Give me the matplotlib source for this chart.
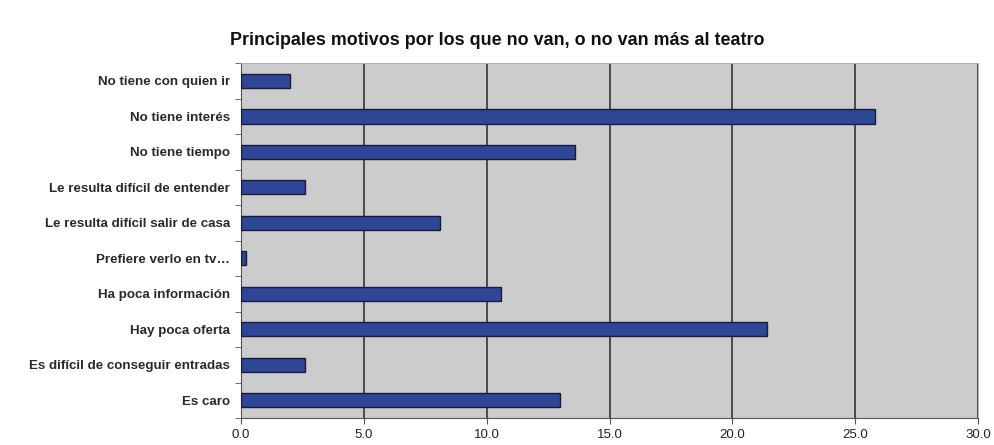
import numpy as np
import matplotlib.pyplot as plt

plt.rcParams['font.family'] = ['Liberation Sans', 'DejaVu Sans']

# categories listed top to bottom as in the chart
motivos = [
    "No tiene con quien ir",
    "No tiene interés",
    "No tiene tiempo",
    "Le resulta difícil de entender",
    "Le resulta difícil salir de casa",
    "Prefiere verlo en tv…",
    "Ha poca información",
    "Hay poca oferta",
    "Es difícil de conseguir entradas",
    "Es caro",
]
porcentajes = [2.0, 25.8, 13.6, 2.6, 8.1, 0.2, 10.6, 21.4, 2.6, 13.0]
xticks = [0, 5, 10, 15, 20, 25, 30]

fig = plt.figure(figsize=(9.94, 4.45), dpi=100)
ax = fig.add_axes([0.2425, 0.0607, 0.7415, 0.7973])
ax.set_facecolor("#cccccc")

y = np.arange(len(motivos))[::-1]
ax.barh(y, porcentajes, height=0.4, color="#2e4696", edgecolor="#1a1a3a",
        linewidth=1.0, zorder=3)

ax.set_xlim(0, 30)
ax.set_ylim(-0.5, len(motivos) - 0.5)
ax.set_xticks(xticks)
ax.set_xticklabels([f"{v:.1f}" for v in xticks], fontsize=9.5, color="#222222")
ax.set_yticks(y)
ax.set_yticklabels(motivos, fontsize=9.6, fontweight="bold", color="#2a2a2a")
ax.set_yticks(np.arange(-0.5, len(motivos)), minor=True)
ax.tick_params(axis="y", which="major", length=0, pad=8)
ax.tick_params(axis="y", which="minor", length=4, color="#555555")
ax.tick_params(axis="x", length=4, color="#555555", pad=4)

ax.grid(axis="x", color="#4a4a4a", linewidth=1.4, zorder=1)
for side in ["top", "right"]:
    ax.spines[side].set_color("#b0b0b0")
for side in ["left", "bottom"]:
    ax.spines[side].set_color("#555555")

fig.text(0.5, 0.91, "Principales motivos por los que no van, o no van más al teatro",
         ha="center", va="center", fontsize=12.9, fontweight="bold", color="#111111")

fig.savefig("out.png", dpi=100)
